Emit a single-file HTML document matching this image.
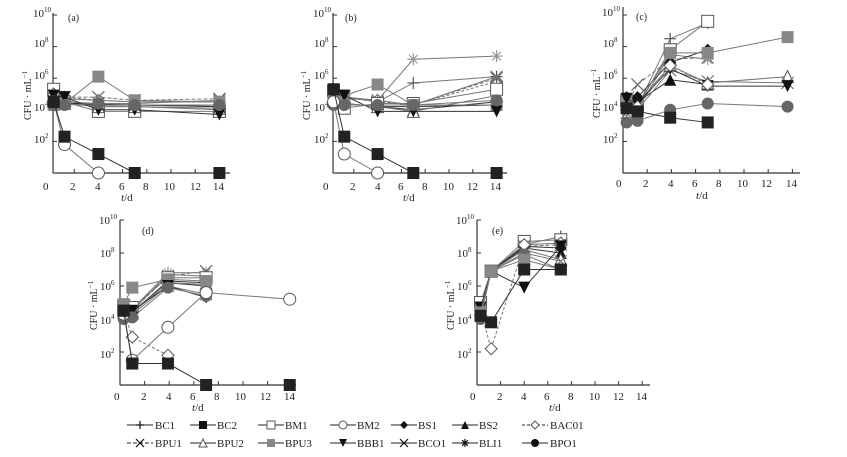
<!DOCTYPE html>
<html><head><meta charset="utf-8"><style>
html,body{margin:0;padding:0;background:#fff;}
svg{display:block;font-family:"Liberation Serif",serif;}
</style></head><body>
<svg id="s" width="847" height="457" viewBox="0 0 847 457" xmlns="http://www.w3.org/2000/svg">
<g font-size="11" fill="#222">
<!-- panel a -->
<text x="33" y="17">10<tspan font-size="7" dy="-5">10</tspan></text>
<text x="34" y="47">10<tspan font-size="7" dy="-5">8</tspan></text>
<text x="34" y="79">10<tspan font-size="7" dy="-5">6</tspan></text>
<text x="34" y="111">10<tspan font-size="7" dy="-5">4</tspan></text>
<text x="34" y="143">10<tspan font-size="7" dy="-5">2</tspan></text>
<text x="43" y="190">0</text>
<text x="70" y="190">2</text><text x="95" y="190">4</text><text x="119" y="190">6</text><text x="143" y="190">8</text><text x="164" y="190">10</text><text x="190" y="190">12</text><text x="213" y="190">14</text>
<text x="121" y="201"><tspan font-style="italic">t</tspan>/d</text>
<text x="68" y="21" font-size="10">(a)</text>
<text transform="translate(31,120) rotate(-90)" font-size="10">CFU · mL<tspan font-size="7" dy="-4">−1</tspan></text>
<!-- panel b -->
<text x="313" y="17">10<tspan font-size="7" dy="-5">10</tspan></text>
<text x="314" y="47">10<tspan font-size="7" dy="-5">8</tspan></text>
<text x="314" y="79">10<tspan font-size="7" dy="-5">6</tspan></text>
<text x="314" y="111">10<tspan font-size="7" dy="-5">4</tspan></text>
<text x="314" y="143">10<tspan font-size="7" dy="-5">2</tspan></text>
<text x="323" y="190">0</text>
<text x="350" y="190">2</text><text x="375" y="190">4</text><text x="398" y="190">6</text><text x="422" y="190">8</text><text x="443" y="190">10</text><text x="467" y="190">12</text><text x="490" y="190">14</text>
<text x="403" y="201"><tspan font-style="italic">t</tspan>/d</text>
<text x="345" y="21" font-size="10">(b)</text>
<text transform="translate(310,120) rotate(-90)" font-size="10">CFU · mL<tspan font-size="7" dy="-4">−1</tspan></text>
<!-- panel c -->
<text x="602" y="16">10<tspan font-size="7" dy="-5">10</tspan></text>
<text x="603" y="47">10<tspan font-size="7" dy="-5">8</tspan></text>
<text x="603" y="79">10<tspan font-size="7" dy="-5">6</tspan></text>
<text x="603" y="111">10<tspan font-size="7" dy="-5">4</tspan></text>
<text x="603" y="143">10<tspan font-size="7" dy="-5">2</tspan></text>
<text x="616" y="187">0</text>
<text x="643" y="187">2</text><text x="668" y="187">4</text><text x="692" y="187">6</text><text x="716" y="187">8</text><text x="737" y="187">10</text><text x="761" y="187">12</text><text x="786" y="187">14</text>
<text x="696" y="199"><tspan font-style="italic">t</tspan>/d</text>
<text x="636" y="20" font-size="10">(c)</text>
<text transform="translate(600,118) rotate(-90)" font-size="10">CFU · mL<tspan font-size="7" dy="-4">−1</tspan></text>
<!-- panel d -->
<text x="99" y="224">10<tspan font-size="7" dy="-5">10</tspan></text>
<text x="100" y="257">10<tspan font-size="7" dy="-5">8</tspan></text>
<text x="100" y="290">10<tspan font-size="7" dy="-5">6</tspan></text>
<text x="100" y="324">10<tspan font-size="7" dy="-5">4</tspan></text>
<text x="100" y="358">10<tspan font-size="7" dy="-5">2</tspan></text>
<text x="114" y="400">0</text>
<text x="141" y="400">2</text><text x="166" y="400">4</text><text x="190" y="400">6</text><text x="214" y="400">8</text><text x="235" y="400">10</text><text x="260" y="400">12</text><text x="284" y="400">14</text>
<text x="192" y="411"><tspan font-style="italic">t</tspan>/d</text>
<text x="142" y="234" font-size="10">(d)</text>
<text transform="translate(97,330) rotate(-90)" font-size="10">CFU · mL<tspan font-size="7" dy="-4">−1</tspan></text>
<!-- panel e -->
<text x="456" y="224">10<tspan font-size="7" dy="-5">10</tspan></text>
<text x="457" y="257">10<tspan font-size="7" dy="-5">8</tspan></text>
<text x="457" y="290">10<tspan font-size="7" dy="-5">6</tspan></text>
<text x="457" y="324">10<tspan font-size="7" dy="-5">4</tspan></text>
<text x="457" y="358">10<tspan font-size="7" dy="-5">2</tspan></text>
<text x="470" y="400">0</text>
<text x="497" y="400">2</text><text x="521" y="400">4</text><text x="544" y="400">6</text><text x="568" y="400">8</text><text x="589" y="400">10</text><text x="613" y="400">12</text><text x="636" y="400">14</text>
<text x="549" y="411"><tspan font-style="italic">t</tspan>/d</text>
<text x="492" y="234" font-size="10">(e)</text>
<text transform="translate(454,330) rotate(-90)" font-size="10">CFU · mL<tspan font-size="7" dy="-4">−1</tspan></text>
<!-- legend -->
<g font-size="11">
<text x="155" y="429">BC1</text><text x="217" y="429">BC2</text><text x="285" y="429">BM1</text><text x="357" y="429">BM2</text><text x="418" y="429">BS1</text><text x="479" y="429">BS2</text><text x="550" y="429">BAC01</text>
<text x="155" y="447">BPU1</text><text x="217" y="447">BPU2</text><text x="285" y="447">BPU3</text><text x="357" y="447">BBB1</text><text x="418" y="447">BCO1</text><text x="479" y="447">BLI1</text><text x="550" y="447">BPO1</text>
</g>
</g>
<g id="plot"></g>
</svg>
<script>
var NS="http://www.w3.org/2000/svg",P=document.getElementById("plot");
function el(t,a){var e=document.createElementNS(NS,t);for(var k in a)e.setAttribute(k,a[k]);P.appendChild(e);return e;}
var panels={
a:{x0:50,k:12.1,yb:173,dy:15.8,ax:53,r:230,top:13},
b:{x0:330,k:11.9,yb:173,dy:15.8,ax:333,r:507,top:13},
c:{x0:623,k:12.1,yb:173,dy:15.8,ax:623,r:800,top:7},
d:{x0:120,k:12.3,yb:385,dy:16.5,ax:120,r:296,top:220},
e:{x0:477,k:11.8,yb:385,dy:16.5,ax:477,r:650,top:220}};
for(var n in panels){var p=panels[n];
el("line",{x1:p.ax,y1:p.top,x2:p.ax,y2:p.yb,stroke:"#333","stroke-width":1.2});
el("line",{x1:p.ax,y1:p.yb,x2:p.r,y2:p.yb,stroke:"#333","stroke-width":1.2});
for(var v=2;v<=10;v+=2)el("line",{x1:p.ax,y1:p.yb-v*p.dy,x2:p.ax+4,y2:p.yb-v*p.dy,stroke:"#333"});
for(var d=2;d<=14;d+=2){var x=p.x0+d*p.k;el("line",{x1:x,y1:p.yb,x2:x,y2:p.yb-4,stroke:"#333"});}}
function mk(m,x,y,c,s){s=s||5;
 if(m=="sq")el("rect",{x:x-s,y:y-s,width:2*s,height:2*s,fill:c});
 else if(m=="osq")el("rect",{x:x-s,y:y-s,width:2*s,height:2*s,fill:"#fff",stroke:"#555","stroke-width":1});
 else if(m=="ci")el("circle",{cx:x,cy:y,r:s,fill:c});
 else if(m=="oci")el("circle",{cx:x,cy:y,r:s,fill:"#fff",stroke:"#555","stroke-width":1});
 else if(m=="tu")el("polygon",{points:(x-s)+","+(y+s)+" "+(x+s)+","+(y+s)+" "+x+","+(y-s),fill:c});
 else if(m=="otu")el("polygon",{points:(x-s)+","+(y+s)+" "+(x+s)+","+(y+s)+" "+x+","+(y-s),fill:"#fff",stroke:"#555"});
 else if(m=="td")el("polygon",{points:(x-s)+","+(y-s)+" "+(x+s)+","+(y-s)+" "+x+","+(y+s),fill:c});
 else if(m=="di")el("polygon",{points:x+","+(y-s)+" "+(x+s)+","+y+" "+x+","+(y+s)+" "+(x-s)+","+y,fill:c});
 else if(m=="odi")el("polygon",{points:x+","+(y-s)+" "+(x+s)+","+y+" "+x+","+(y+s)+" "+(x-s)+","+y,fill:"#fff",stroke:"#555"});
 else if(m=="x"){el("path",{d:"M"+(x-s)+","+(y-s)+"L"+(x+s)+","+(y+s)+"M"+(x-s)+","+(y+s)+"L"+(x+s)+","+(y-s),stroke:c,"stroke-width":1.2});}
 else if(m=="pl"){el("path",{d:"M"+(x-s)+","+y+"L"+(x+s)+","+y+"M"+x+","+(y-s)+"L"+x+","+(y+s),stroke:c,"stroke-width":1.2});}
 else if(m=="as"){el("path",{d:"M"+(x-s)+","+y+"L"+(x+s)+","+y+"M"+x+","+(y-s)+"L"+x+","+(y+s)+"M"+(x-s*.7)+","+(y-s*.7)+"L"+(x+s*.7)+","+(y+s*.7)+"M"+(x-s*.7)+","+(y+s*.7)+"L"+(x+s*.7)+","+(y-s*.7),stroke:c,"stroke-width":1.2});}
}
var S={BC1:["pl","#555",""],BC2:["sq","#222",""],BM1:["osq","#555",""],BM2:["oci","#555",""],BS1:["di","#111",""],BS2:["tu","#111",""],BAC01:["odi","#555","3,2"],
BPU1:["x","#666","4,2"],BPU2:["otu","#555",""],BPU3:["sq","#888",""],BBB1:["td","#111",""],BCO1:["x","#777",""],BLI1:["as","#999",""],BPO1:["ci","#666",""]};
function ser(pn,name,days,vals){var p=panels[pn],s=S[name],pts=[];
 for(var i=0;i<days.length;i++)if(vals[i]!=null)pts.push([p.x0+days[i]*p.k,p.yb-vals[i]*p.dy]);
 el("polyline",{points:pts.map(function(q){return q.join(",")}).join(" "),fill:"none",stroke:s[1]=="#222"||s[1]=="#111"?"#333":"#777","stroke-width":1,"stroke-dasharray":s[2]});
 pts.forEach(function(q){mk(s[0],q[0],q[1],s[1],6);});}
var D5=[0.3,1.2,4,7,14];
var A={BC1:[4.6,4.6,4.2,4.2,4],BM1:[5.3,4.5,3.9,3.9,3.9],BS1:[4.5,4.4,4.4,4.3,4.2],BS2:[4.5,4.4,4.3,4.3,4.2],BAC01:[5,4.8,4.6,4.5,4.5],BPU1:[4.9,4.8,4.8,4.6,4.7],BPU2:[4.6,4.4,4.2,4.2,4.1],BCO1:[4.5,4.5,4.4,4.4,4.6],BLI1:[4.8,4.7,4.6,4.5,4.5],BPU3:[4.3,4.4,6.1,4.6,4.5],BBB1:[4.9,4.8,4,4,3.7],BPO1:[4.3,4.3,4.4,4.3,4.3],BM2:[4.5,1.8,0,null,null],BC2:[4.5,2.3,1.2,0,0]};
for(var k in A)ser("a",k,D5,A[k]);
var B={BS1:[4.5,4.4,4.2,4.2,4.3],BS2:[4.5,4.4,4.2,4,4.5],BAC01:[4.8,4.7,4.6,4.3,5.8],BPU2:[4.6,4.4,4.2,3.9,4.9],BC1:[5,4.8,4.5,5.7,6.1],BPU1:[4.8,4.8,4.5,4.3,6],BCO1:[4.8,4.8,4.6,4.3,6.1],BLI1:[4.8,4.8,4.6,7.2,7.4],BM1:[5.2,4.1,4.4,4.4,5.3],BPU3:[5,4.9,5.6,4.3,4.3],BBB1:[5,4.9,3.9,3.9,3.9],BPO1:[4.3,4.3,4.3,4.3,4.6],BM2:[4.5,1.2,0,null,null],BC2:[5.3,2.3,1.2,0,0]};
for(var k in B)ser("b",k,D5,B[k]);
var DC=[0.3,1.2,3.9,7,13.6];
var C={BC1:[4,4.2,8.5,9.5,null],BM1:[4.6,4.2,7.8,9.6,null],BPU1:[4.3,5.6,7.2,7.3,null],BLI1:[4,4,7.5,7.2,null],BS1:[4.8,4.8,7,7.8,null],BS2:[4.5,4.5,5.9,5.6,null],BPU2:[4.6,4.4,6.8,5.7,6.1],BCO1:[3.8,4,6.5,5.8,5.7],BPU3:[4.6,4.3,7.6,7.6,8.6],BBB1:[4.7,4.4,6.6,5.5,5.5],BAC01:[4,4.2,6.8,5.6,null],BPO1:[3.2,3.3,4,4.4,4.2],BC2:[4.1,3.9,3.5,3.2,null]};
for(var k in C)ser("c",k,DC,C[k]);
var DD=[0.3,1,3.9,7,13.8];
var Dd={BC1:[4.8,4.5,6.7,6.6,null],BLI1:[4.8,4.6,6.8,6.8,null],BPU1:[4.7,4.5,6.6,6.9,null],BM1:[4.8,4.7,6.5,6.5,null],BS1:[4.6,4.4,6.3,6.2,null],BS2:[4.6,4.4,6.2,6,null],BPU2:[4.5,4.4,6.2,6.1,null],BCO1:[4.4,4.3,6,5.5,null],BPU3:[4.9,5.9,6.4,6.3,null],BBB1:[4.5,4.5,6,5.3,null],BPO1:[4,4.1,5.9,5.4,null],BM2:[4.3,1.5,3.5,5.6,5.2],BAC01:[4.5,2.9,1.8,null,null],BC2:[4.5,1.3,1.3,0,0]};
for(var k in Dd)ser("d",k,DD,Dd[k]);
var DE=[0.3,1.2,4,7.1];
var E={BC1:[4.7,6.9,8.5,9],BM1:[5,6.9,8.7,8.8],BLI1:[4.6,6.9,8.5,8.6],BPU1:[4.6,6.9,8.4,8.5],BS1:[4.5,6.9,8.4,8.3],BS2:[4.5,6.9,8.3,8],BPU2:[4.6,6.9,8.2,7.6],BCO1:[4.5,6.9,8,7.5],BAC01:[4.5,2.2,8.5,8.6],BBB1:[4.7,6.9,5.9,8.4],BPO1:[4,6.9,7.9,7],BPU3:[4.4,6.9,7.6,7],BC2:[4.2,3.8,7,7]};
for(var k in E)ser("e",k,DE,E[k]);
var L=[["BC1",127,425],["BC2",190,425],["BM1",258,425],["BM2",330,425],["BS1",391,425],["BS2",452,425],["BAC01",522,425],
["BPU1",127,443],["BPU2",190,443],["BPU3",258,443],["BBB1",330,443],["BCO1",391,443],["BLI1",452,443],["BPO1",522,443]];
L.forEach(function(l){var s=S[l[0]];el("line",{x1:l[1],y1:l[2],x2:l[1]+26,y2:l[2],stroke:"#222","stroke-dasharray":s[2]});mk(s[0],l[1]+13,l[2],l[0]=="BPU3"?"#888":"#111",4);});
</script>
</body></html>
